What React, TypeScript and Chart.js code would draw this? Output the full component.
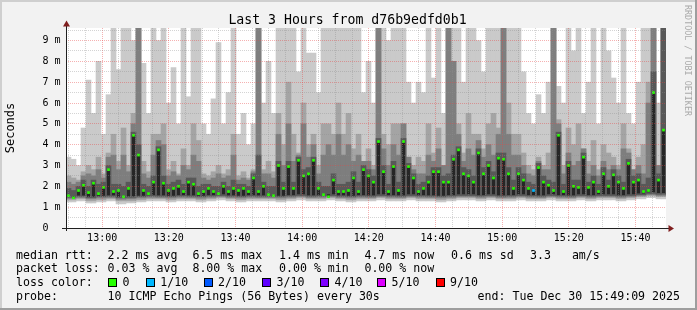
import React, { useEffect, useRef } from "react";
import { Chart, registerables } from "chart.js";

Chart.register(...registerables);

// ---------------- text ----------------
const TITLE = "Last 3 Hours from d76b9edfd0b1";
const Y_AXIS_TITLE = "Seconds";
const WATERMARK = "RRDTOOL / TOBI OETIKER";

// ---------------- axes ----------------
// x values are minutes after the graph start (12:49:09), 180 minutes shown
const X_SPAN_MIN = 180;
const SAMPLE_STEP_MIN = 1.5;
const X_GRID_FIRST_MIN = 0.85; // 12:50:00
const X_GRID_STEP_MIN = 5;
const X_MAJOR_FIRST_MIN = 10.85; // 13:00:00
const X_MAJOR_STEP_MIN = 20;
const X_MAJOR_LABELS = ["13:00", "13:20", "13:40", "14:00", "14:20", "14:40", "15:00", "15:20", "15:40"];

const Y_MAX = 9.6; // milliseconds
const Y_GRID_STEP = 0.5;
const Y_TICK_LABELS = ["0  ", "1 m", "2 m", "3 m", "4 m", "5 m", "6 m", "7 m", "8 m", "9 m"];

// ---------------- data (ms), one value per 1.5 minutes ----------------
const medianRtt = [
  1.55, 1.45, 1.8, 2.05, 1.7, 2.15, 1.65, 1.95, 2.8, 1.75,
  1.8, 1.5, 1.9, 4.45, 3.5, 1.8, 1.65, 2.2, 3.75, 2.15,
  1.8, 1.9, 2.0, 1.75, 2.2, 2.1, 1.65, 1.75, 1.9, 1.75,
  1.65, 2.0, 1.75, 1.9, 1.8, 1.9, 1.75, 2.4, 1.75, 2.0,
  1.6, 1.55, 3.0, 1.9, 2.95, 1.9, 3.25, 2.5, 2.6, 3.25,
  1.9, 1.6, 1.5, 2.3, 1.75, 1.75, 1.8, 2.4, 1.75, 2.8,
  2.5, 2.2, 4.15, 2.7, 1.75, 2.95, 1.8, 4.15, 2.95, 2.4,
  1.75, 1.9, 2.2, 2.7, 2.7, 2.2, 2.2, 3.3, 3.75, 2.6,
  2.5, 2.2, 3.6, 2.6, 3.0, 2.4, 3.35, 3.3, 2.6, 1.9,
  2.6, 2.3, 1.9, 1.8, 2.9, 2.2, 2.05, 1.8, 4.45, 1.75,
  3.0, 2.0, 1.95, 3.4, 1.95, 2.2, 1.75, 2.6, 2.0, 2.55,
  2.2, 1.9, 3.1, 2.2, 2.3, 1.75, 1.8, 6.5, 2.3, 4.7,
];

// highest ping of the 10 (lightest smoke top); values above the axis are clipped
const ping10 = [
  3.4, 3.3, 3.0, 4.8, 7.1, 5.5, 8.0, 4.5, 6.4, 10,
  7.6, 10, 10, 9.0, 10, 7.9, 5.5, 10, 9.0, 10,
  6.0, 7.7, 5.0, 10, 6.3, 10, 10, 5.0, 4.5, 6.2,
  8.9, 5.0, 6.5, 10, 4.5, 5.5, 4.0, 5.0, 10, 6.0,
  8.0, 5.5, 10, 10, 10, 10, 7.5, 10, 8.4, 8.4,
  6.5, 10, 10, 10, 10, 10, 10, 10, 10, 6.5,
  8.0, 6.0, 10, 10, 9.0, 10, 10, 10, 7.0, 6.0,
  7.0, 6.5, 10, 7.2, 10, 5.5, 10, 10, 10, 7.0,
  10, 10, 9.0, 7.5, 10, 10, 10, 10, 10, 10,
  10, 7.5, 5.5, 5.0, 6.4, 5.5, 7.0, 10, 6.8, 6.0,
  10, 8.5, 10, 5.5, 7.0, 10, 5.0, 10, 8.5, 7.2,
  6.0, 10, 5.5, 5.0, 7.0, 10, 10, 10, 6.0, 10,
];

const ping9 = [
  2.5, 2.4, 2.3, 2.7, 3.0, 2.8, 3.4, 2.6, 3.6, 4.5,
  3.2, 4.8, 3.0, 5.5, 10, 3.2, 2.7, 4.5, 4.5, 5.0,
  2.8, 3.2, 2.6, 3.8, 3.0, 5.0, 4.2, 2.6, 2.5, 2.7,
  3.0, 2.6, 2.8, 4.5, 2.5, 2.7, 2.4, 2.8, 10, 2.8,
  3.2, 2.7, 5.5, 4.0, 7.0, 4.5, 3.6, 6.0, 4.0, 4.5,
  3.0, 5.0, 5.0, 4.5, 6.0, 4.5, 5.5, 3.8, 4.5, 3.2,
  3.8, 3.0, 10, 4.5, 4.0, 5.0, 5.0, 5.0, 3.4, 3.0,
  3.4, 3.2, 5.0, 3.6, 4.8, 3.0, 10, 8.0, 5.0, 3.6,
  5.5, 4.5, 4.5, 3.8, 5.0, 5.5, 4.8, 10, 6.0, 4.5,
  4.5, 3.6, 3.0, 2.8, 3.4, 3.0, 3.6, 10, 5.2, 3.0,
  4.8, 4.0, 5.0, 3.8, 3.2, 4.2, 2.8, 4.0, 3.6, 3.4,
  3.0, 5.0, 3.8, 2.8, 3.4, 4.0, 7.0, 10, 3.0, 10,
];

const ping8 = [
  2.2, 2.1, 2.2, 2.5, 2.6, 2.5, 2.8, 2.4, 3.4, 3.5,
  2.8, 3.5, 2.7, 5.0, 10, 2.6, 2.4, 3.5, 4.2, 4.0,
  2.5, 2.7, 2.5, 3.0, 2.8, 3.5, 3.2, 2.4, 2.3, 2.4,
  2.6, 2.4, 2.5, 3.5, 2.3, 2.4, 2.3, 2.7, 10, 2.6,
  2.6, 2.4, 4.5, 3.0, 5.0, 3.2, 3.5, 5.0, 3.4, 4.0,
  2.6, 3.5, 4.0, 3.5, 4.5, 3.5, 4.0, 3.2, 3.5, 3.2,
  3.2, 2.8, 10, 3.8, 3.0, 4.0, 3.5, 5.0, 3.4, 2.8,
  2.6, 2.6, 3.5, 3.2, 3.8, 3.0, 10, 8.0, 4.5, 3.2,
  3.8, 3.5, 4.2, 3.4, 4.0, 3.5, 4.5, 10, 4.5, 3.5,
  3.5, 3.0, 2.6, 2.5, 3.2, 2.8, 2.8, 10, 5.0, 2.6,
  3.6, 3.0, 3.2, 3.8, 2.6, 3.0, 2.5, 3.2, 2.8, 3.0,
  2.8, 3.8, 3.6, 2.8, 3.0, 2.6, 6.0, 10, 3.0, 10,
];

const ping7 = [
  1.9, 1.8, 2.0, 2.3, 2.0, 2.3, 2.1, 2.2, 3.0, 2.1,
  2.1, 2.0, 2.2, 4.6, 4.0, 2.1, 2.0, 2.5, 3.9, 2.5,
  2.1, 2.2, 2.3, 2.1, 2.4, 2.4, 2.0, 2.1, 2.1, 2.0,
  2.0, 2.2, 2.0, 2.3, 2.1, 2.1, 2.0, 2.6, 3.5, 2.2,
  2.0, 2.0, 3.2, 2.2, 3.2, 2.2, 3.4, 2.8, 2.9, 3.4,
  2.2, 2.0, 2.0, 2.6, 2.1, 2.1, 2.2, 2.7, 2.2, 3.0,
  2.8, 2.5, 4.3, 3.0, 2.1, 3.2, 2.2, 4.3, 3.1, 2.6,
  2.1, 2.2, 2.5, 2.9, 2.9, 2.5, 2.6, 3.5, 3.9, 2.9,
  2.8, 2.5, 3.8, 2.9, 3.2, 2.7, 3.6, 3.6, 2.9, 2.3,
  2.9, 2.6, 2.2, 2.1, 3.1, 2.5, 2.3, 2.2, 4.6, 2.1,
  3.2, 2.3, 2.3, 3.6, 2.2, 2.5, 2.1, 2.9, 2.3, 2.8,
  2.5, 2.2, 3.3, 2.5, 2.6, 2.1, 2.4, 7.5, 2.6, 10,
];

// lower pings, one value per 3 minutes
const ping1 = [
  1.25, 1.3, 1.2, 1.25, 1.3, 1.15, 1.2, 1.25, 1.3, 1.3,
  1.25, 1.3, 1.3, 1.25, 1.3, 1.35, 1.3, 1.25, 1.3, 1.3,
  1.3, 1.25, 1.3, 1.35, 1.3, 1.3, 1.35, 1.3, 1.25, 1.3,
  1.3, 1.35, 1.3, 1.3, 1.35, 1.3, 1.3, 1.25, 1.3, 1.35,
  1.35, 1.3, 1.35, 1.3, 1.3, 1.35, 1.3, 1.3, 1.35, 1.3,
  1.3, 1.35, 1.3, 1.35, 1.35, 1.3, 1.35, 1.4, 1.45, 1.4,
];
const ping2 = [
  1.35, 1.4, 1.3, 1.35, 1.4, 1.3, 1.3, 1.35, 1.4, 1.4,
  1.35, 1.4, 1.4, 1.35, 1.4, 1.45, 1.4, 1.35, 1.4, 1.4,
  1.4, 1.35, 1.4, 1.45, 1.4, 1.4, 1.45, 1.4, 1.35, 1.4,
  1.4, 1.45, 1.4, 1.4, 1.45, 1.4, 1.4, 1.35, 1.4, 1.45,
  1.45, 1.4, 1.45, 1.4, 1.4, 1.45, 1.4, 1.4, 1.45, 1.4,
  1.4, 1.45, 1.4, 1.45, 1.45, 1.4, 1.45, 1.5, 1.55, 1.5,
];
const ping3 = [
  1.42, 1.46, 1.4, 1.44, 1.46, 1.38, 1.4, 1.44, 1.47, 1.46,
  1.44, 1.47, 1.46, 1.43, 1.47, 1.5, 1.46, 1.44, 1.47, 1.46,
  1.46, 1.44, 1.47, 1.5, 1.46, 1.47, 1.5, 1.46, 1.44, 1.47,
  1.46, 1.5, 1.47, 1.46, 1.5, 1.47, 1.46, 1.44, 1.47, 1.5,
  1.5, 1.47, 1.5, 1.46, 1.47, 1.5, 1.47, 1.46, 1.5, 1.47,
  1.46, 1.5, 1.47, 1.5, 1.5, 1.47, 1.5, 1.55, 1.6, 1.56,
];
const ping4 = [
  1.48, 1.52, 1.46, 1.5, 1.52, 1.45, 1.47, 1.5, 1.53, 1.52,
  1.5, 1.53, 1.52, 1.5, 1.53, 1.56, 1.52, 1.5, 1.53, 1.52,
  1.52, 1.5, 1.53, 1.56, 1.52, 1.53, 1.56, 1.52, 1.5, 1.53,
  1.52, 1.56, 1.53, 1.52, 1.56, 1.53, 1.52, 1.5, 1.53, 1.56,
  1.56, 1.53, 1.56, 1.52, 1.53, 1.56, 1.53, 1.52, 1.56, 1.53,
  1.52, 1.56, 1.53, 1.56, 1.56, 1.53, 1.56, 1.6, 1.66, 1.62,
];
const ping5 = [
  1.53, 1.56, 1.5, 1.55, 1.57, 1.5, 1.52, 1.55, 1.58, 1.57,
  1.55, 1.58, 1.57, 1.55, 1.58, 1.62, 1.57, 1.55, 1.58, 1.57,
  1.57, 1.55, 1.58, 1.62, 1.57, 1.58, 1.62, 1.57, 1.55, 1.58,
  1.57, 1.62, 1.58, 1.57, 1.62, 1.58, 1.57, 1.55, 1.58, 1.62,
  1.62, 1.58, 1.62, 1.57, 1.58, 1.62, 1.58, 1.57, 1.62, 1.58,
  1.57, 1.62, 1.58, 1.62, 1.62, 1.58, 1.62, 1.66, 1.72, 1.68,
];

// samples that lost pings (index into medianRtt, lost pings out of 10)
const LOSS_SAMPLE_INDEX = [93];
const LOSS_SAMPLE_TENTHS = [1];

// ---------------- legend ----------------
const RTT_LABEL = "median rtt:";
const RTT_STATS = ["2.2 ms avg", "6.5 ms max", "1.4 ms min", "4.7 ms now", "0.6 ms sd", "3.3   am/s"];
const LOSS_LABEL = "packet loss:";
const LOSS_STATS = ["0.03 % avg", "8.00 % max", "0.00 % min", "0.00 % now"];
const LOSS_COLOR_LABEL = "loss color:";
const LOSS_LEVELS = ["0", "1/10", "2/10", "3/10", "4/10", "5/10", "9/10"];
const LOSS_LEVEL_TENTHS = [0, 1, 2, 3, 4, 5, 9];
const LOSS_COLORS = ["#26ff00", "#00b8ff", "#0059ff", "#5e00ff", "#7e00ff", "#dd00ff", "#ff0000"];
const PROBE_LABEL = "probe:";
const PROBE_TEXT = "10 ICMP Echo Pings (56 Bytes) every 30s";
const END_TEXT = "end: Tue Dec 30 15:49:09 2025";

// ---------------- styling ----------------
const MONO = '"DejaVu Sans Mono", monospace';
const SMOKE_COLORS = ["#cacaca", "#a4a4a4", "#7e7e7e", "#585858", "#262626"];
const GRID_MINOR = "rgba(143,143,143,0.38)";
const GRID_MAJOR = "rgba(230,70,70,0.42)";

const sampleX = medianRtt.map((_, i) => i * SAMPLE_STEP_MIN + SAMPLE_STEP_MIN / 2);

function band(lo: number[], hi: number[]) {
  return hi.map((h, i) => ({
    x: sampleX[i],
    y: [lo[Math.floor((i * lo.length) / hi.length)], h],
  }));
}

function lossColorFor(index: number) {
  const k = LOSS_SAMPLE_INDEX.indexOf(index);
  const tenths = k >= 0 ? LOSS_SAMPLE_TENTHS[k] : 0;
  const c = LOSS_LEVEL_TENTHS.indexOf(tenths);
  return LOSS_COLORS[c >= 0 ? c : 0];
}

const isMajorX = (v: number) => {
  const q = (v - X_MAJOR_FIRST_MIN) / X_MAJOR_STEP_MIN;
  return Math.abs(q - Math.round(q)) < 1e-6 && q >= -1e-6;
};
const isMajorY = (v: number) => Math.abs(v - Math.round(v)) < 1e-6;

const rrdPlugin = {
  id: "rrdFrame",
  beforeDraw(chart: any) {
    const { ctx, chartArea: a, width, height } = chart;
    ctx.save();
    ctx.fillStyle = "#f2f2f2";
    ctx.fillRect(0, 0, width, height);
    ctx.fillStyle = "#cfcfcf";
    ctx.fillRect(0, 0, width, 2);
    ctx.fillRect(0, 0, 2, height);
    ctx.fillStyle = "#9e9e9e";
    ctx.fillRect(0, height - 2, width, 2);
    ctx.fillRect(width - 2, 0, 2, height);
    ctx.fillStyle = "#ffffff";
    ctx.fillRect(a.left, a.top, a.right - a.left, a.bottom - a.top);
    ctx.restore();
  },
  afterDraw(chart: any) {
    const { ctx, chartArea: a } = chart;
    ctx.save();
    // axes
    ctx.strokeStyle = "#1f1f1f";
    ctx.lineWidth = 1;
    ctx.beginPath();
    ctx.moveTo(a.left + 0.5, a.bottom + 3);
    ctx.lineTo(a.left + 0.5, a.top - 3);
    ctx.moveTo(a.left - 4, a.bottom + 0.5);
    ctx.lineTo(a.right + 3, a.bottom + 0.5);
    ctx.stroke();
    // arrows
    ctx.fillStyle = "#801f1f";
    ctx.beginPath();
    ctx.moveTo(a.left + 0.5, a.top - 7.5);
    ctx.lineTo(a.left - 3, a.top - 1.5);
    ctx.lineTo(a.left + 4, a.top - 1.5);
    ctx.closePath();
    ctx.fill();
    ctx.beginPath();
    ctx.moveTo(a.right + 8, a.bottom + 0.5);
    ctx.lineTo(a.right + 2.5, a.bottom - 3);
    ctx.lineTo(a.right + 2.5, a.bottom + 4);
    ctx.closePath();
    ctx.fill();

    // title
    ctx.fillStyle = "#000";
    ctx.font = `13.2px ${MONO}`;
    ctx.textAlign = "center";
    ctx.textBaseline = "alphabetic";
    ctx.fillText(TITLE, 347.5, 24);

    // y axis title
    ctx.save();
    ctx.translate(11, (a.top + a.bottom) / 2);
    ctx.rotate(-Math.PI / 2);
    ctx.font = `12px ${MONO}`;
    ctx.textBaseline = "middle";
    ctx.fillText(Y_AXIS_TITLE, 0, 0);
    ctx.restore();

    // watermark
    ctx.save();
    ctx.translate(687.5, 60.5);
    ctx.rotate(Math.PI / 2);
    ctx.font = `8.4px ${MONO}`;
    ctx.fillStyle = "#aaaaaa";
    ctx.textBaseline = "middle";
    ctx.fillText(WATERMARK, 0, 0);
    ctx.restore();

    // legend
    ctx.font = `11.6px ${MONO}`;
    ctx.textAlign = "left";
    ctx.textBaseline = "alphabetic";
    ctx.fillStyle = "#000";
    const rows = [258.5, 272.3, 286.1, 299.8];
    const cols = [107.6, 192.4, 279, 364.4, 451, 530];
    ctx.fillText(RTT_LABEL, 16, rows[0]);
    RTT_STATS.forEach((t, i) => ctx.fillText(t, cols[i], rows[0]));
    ctx.fillText(LOSS_LABEL, 16, rows[1]);
    LOSS_STATS.forEach((t, i) => ctx.fillText(t, cols[i], rows[1]));
    ctx.fillText(LOSS_COLOR_LABEL, 16, rows[2]);
    const boxX = [108, 145.8, 203.6, 262, 320, 377, 435.6];
    LOSS_LEVELS.forEach((t, i) => {
      const bx = Math.round(boxX[i]);
      ctx.fillStyle = LOSS_COLORS[i];
      ctx.fillRect(bx, 278, 9, 9);
      ctx.strokeStyle = "#000";
      ctx.strokeRect(bx + 0.5, 278.5, 8, 8);
      ctx.fillStyle = "#000";
      ctx.fillText(t, boxX[i] + 14.5, rows[2]);
    });
    ctx.fillText(PROBE_LABEL, 16, rows[3]);
    ctx.fillText(PROBE_TEXT, cols[0], rows[3]);
    ctx.textAlign = "right";
    ctx.fillText(END_TEXT, 680, rows[3]);
    ctx.restore();
  },
};

export default function App() {
  const ref = useRef<HTMLCanvasElement | null>(null);

  useEffect(() => {
    const canvas = ref.current;
    if (!canvas) return;

    const barBase = {
      type: "bar" as const,
      grouped: false,
      barPercentage: 1,
      categoryPercentage: 1,
      borderWidth: 0,
      borderSkipped: false,
    };

    const chart = new Chart(canvas, {
      type: "bar",
      data: {
        datasets: [
          {
            type: "line",
            label: "median rtt",
            data: medianRtt.map((v, i) => ({ x: sampleX[i], y: v })),
            showLine: false,
            pointStyle: "rect",
            pointRadius: 1.9,
            pointBorderWidth: 0,
            pointBackgroundColor: (c: any) => lossColorFor(c.dataIndex),
            order: 0,
          } as any,
          { ...barBase, barPercentage: 0.6, label: "ping5-6", data: band(ping5, medianRtt), backgroundColor: SMOKE_COLORS[4], order: 1 },
          { ...barBase, label: "ping4-7", data: band(ping4, ping7), backgroundColor: SMOKE_COLORS[3], order: 2 },
          { ...barBase, label: "ping3-8", data: band(ping3, ping8), backgroundColor: SMOKE_COLORS[2], order: 3 },
          { ...barBase, label: "ping2-9", data: band(ping2, ping9), backgroundColor: SMOKE_COLORS[1], order: 4 },
          { ...barBase, label: "ping1-10", data: band(ping1, ping10), backgroundColor: SMOKE_COLORS[0], order: 5 },
        ] as any,
      },
      plugins: [rrdPlugin],
      options: {
        responsive: false,
        animation: false,
        events: [],
        layout: { padding: { left: 0, right: 31, top: 28, bottom: 0 } },
        plugins: { legend: { display: false }, tooltip: { enabled: false } },
        scales: {
          x: {
            type: "linear",
            min: 0,
            max: X_SPAN_MIN,
            offset: false,
            afterFit: (s: any) => {
              s.height = 82;
            },
            afterBuildTicks: (s: any) => {
              const t: any[] = [];
              for (let v = X_GRID_FIRST_MIN; v < X_SPAN_MIN; v += X_GRID_STEP_MIN) t.push({ value: v });
              s.ticks = t;
            },
            grid: {
              offset: false,
              z: 1,
              drawTicks: false,
              lineWidth: 1,
              color: (c: any) => (c.tick && isMajorX(c.tick.value) ? GRID_MAJOR : GRID_MINOR),
            },
            border: { display: false, dash: [1, 1] },
            ticks: {
              autoSkip: false,
              maxRotation: 0,
              minRotation: 0,
              padding: 4,
              color: "#000",
              font: { family: MONO, size: 10 },
              callback: (v: any) => {
                if (!isMajorX(v)) return "";
                return X_MAJOR_LABELS[Math.round((v - X_MAJOR_FIRST_MIN) / X_MAJOR_STEP_MIN)] ?? "";
              },
            },
          },
          y: {
            type: "linear",
            min: 0,
            max: Y_MAX,
            afterFit: (s: any) => {
              s.width = 66;
            },
            afterBuildTicks: (s: any) => {
              const t: any[] = [];
              for (let k = 0; k * Y_GRID_STEP < Y_MAX; k++) t.push({ value: k * Y_GRID_STEP });
              s.ticks = t;
            },
            grid: {
              z: 1,
              drawTicks: false,
              lineWidth: 1,
              color: (c: any) => (c.tick && isMajorY(c.tick.value) ? GRID_MAJOR : GRID_MINOR),
            },
            border: { display: false, dash: [1, 1] },
            ticks: {
              autoSkip: false,
              padding: 5.5,
              color: "#000",
              font: { family: MONO, size: 10 },
              callback: (v: any) => (isMajorY(v) ? Y_TICK_LABELS[Math.round(v)] ?? "" : ""),
            },
          },
        },
      } as any,
    });

    return () => chart.destroy();
  }, []);

  return (
    <div style={{ position: "fixed", left: 0, top: 0, width: 697, height: 310 }}>
      <canvas ref={ref} width={697} height={310} style={{ display: "block" }} />
    </div>
  );
}
